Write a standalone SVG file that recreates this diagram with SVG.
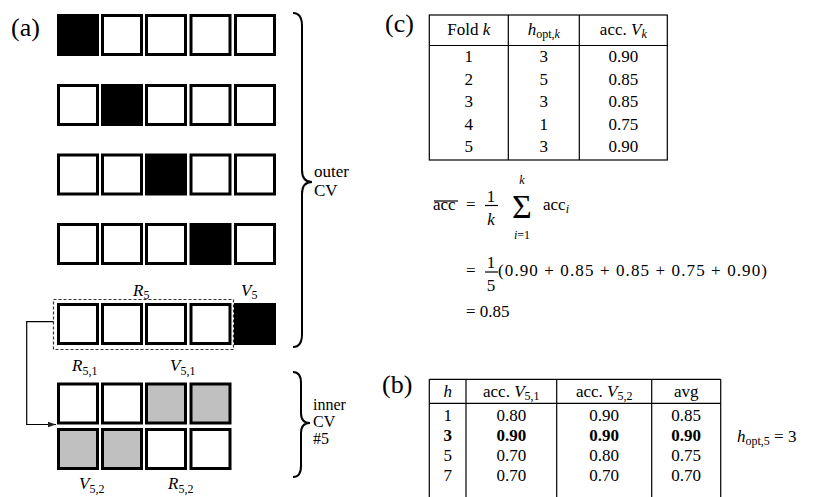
<svg xmlns="http://www.w3.org/2000/svg" width="834" height="497" viewBox="0 0 834 497" font-family="'Liberation Serif', 'DejaVu Serif', serif">
<defs>
<style>
text{font-family:"Liberation Serif","DejaVu Serif",serif;fill:#000}
.t{font-size:17px}
.lab{font-size:26px}
.c{text-anchor:middle}
.i{font-style:italic}
.s{font-size:12px}
.w{fill:#fff;stroke:#000;stroke-width:3}
.b{fill:#000;stroke:#000;stroke-width:3}
.g{fill:#c0c0c0;stroke:#000;stroke-width:3}
.ln{stroke:#000;stroke-width:1.2;fill:none}
.br{stroke:#000;stroke-width:2;fill:none}
.bold{font-weight:bold}
</style>
<marker id="ah" viewBox="0 0 10 10" refX="10" refY="5" markerWidth="8" markerHeight="8" orient="auto" markerUnits="userSpaceOnUse">
<path d="M0,1.5 L10,5 L0,8.5 z" fill="#222"/>
</marker>
</defs>
<rect width="834" height="497" fill="#fff"/>

<text id="label-a" class="lab" x="11" y="36">(a)</text>

<g id="outer-fold-1">
<rect class="b" x="58.5" y="15.5" width="39" height="39"/>
<rect class="w" x="102.5" y="15.5" width="39" height="39"/>
<rect class="w" x="146.5" y="15.5" width="39" height="39"/>
<rect class="w" x="191" y="15.5" width="39" height="39"/>
<rect class="w" x="235.5" y="15.5" width="39" height="39"/>
</g>
<g id="outer-fold-2">
<rect class="w" x="58.5" y="85.5" width="39" height="39"/>
<rect class="b" x="102.5" y="85.5" width="39" height="39"/>
<rect class="w" x="146.5" y="85.5" width="39" height="39"/>
<rect class="w" x="191" y="85.5" width="39" height="39"/>
<rect class="w" x="235.5" y="85.5" width="39" height="39"/>
</g>
<g id="outer-fold-3">
<rect class="w" x="58.5" y="155" width="39" height="39"/>
<rect class="w" x="102.5" y="155" width="39" height="39"/>
<rect class="b" x="146.5" y="155" width="39" height="39"/>
<rect class="w" x="191" y="155" width="39" height="39"/>
<rect class="w" x="235.5" y="155" width="39" height="39"/>
</g>
<g id="outer-fold-4">
<rect class="w" x="58.5" y="224.5" width="39" height="39"/>
<rect class="w" x="102.5" y="224.5" width="39" height="39"/>
<rect class="w" x="146.5" y="224.5" width="39" height="39"/>
<rect class="b" x="191" y="224.5" width="39" height="39"/>
<rect class="w" x="235.5" y="224.5" width="39" height="39"/>
</g>
<g id="outer-fold-5">
<rect x="53.5" y="299.5" width="180" height="50" fill="none" stroke="#333" stroke-width="1.2" stroke-dasharray="3,2"/>
<rect class="w" x="58.5" y="304.5" width="39" height="39"/>
<rect class="w" x="102.5" y="304.5" width="39" height="39"/>
<rect class="w" x="146.5" y="304.5" width="39" height="39"/>
<rect class="w" x="191" y="304.5" width="39" height="39"/>
<rect class="b" x="235.5" y="304.5" width="39" height="39"/>
<text class="t" x="133" y="296"><tspan class="i">R</tspan><tspan class="s" dy="3">5</tspan></text>
<text class="t" x="241" y="296"><tspan class="i">V</tspan><tspan class="s" dy="3">5</tspan></text>
</g>
<g id="inner-row-1">
<rect class="w" x="58.5" y="384" width="39" height="39"/>
<rect class="w" x="102.5" y="384" width="39" height="39"/>
<rect class="g" x="146.5" y="384" width="39" height="39"/>
<rect class="g" x="191" y="384" width="39" height="39"/>
<text class="t" x="72" y="371"><tspan class="i">R</tspan><tspan class="s" dy="4">5,1</tspan></text>
<text class="t" x="170" y="371"><tspan class="i">V</tspan><tspan class="s" dy="4">5,1</tspan></text>
</g>
<g id="inner-row-2">
<rect class="g" x="58.5" y="429.5" width="39" height="39"/>
<rect class="g" x="102.5" y="429.5" width="39" height="39"/>
<rect class="w" x="146.5" y="429.5" width="39" height="39"/>
<rect class="w" x="191" y="429.5" width="39" height="39"/>
<text class="t" x="79" y="489"><tspan class="i">V</tspan><tspan class="s" dy="4">5,2</tspan></text>
<text class="t" x="168" y="489"><tspan class="i">R</tspan><tspan class="s" dy="4">5,2</tspan></text>
</g>

<g id="connectors">
<path class="ln" d="M53.5,321.7 H26.7 V424.5 H56" stroke="#222" marker-end="url(#ah)"/>
</g>

<g id="braces">
<path class="br" d="M293,13 Q302,13 302,26 L302,170 Q302,182 312,182 Q302,182 302,194 L302,334 Q302,347 293,347"/>
<path class="br" d="M293,372 Q301,372 301,383 L301,413 Q301,423 310,423 Q301,423 301,433 L301,466 Q301,477 293,477"/>
<text class="t" x="314" y="177">outer</text>
<text class="t" x="314" y="196">CV</text>
<text x="313" y="410" font-size="16">inner</text>
<text x="313" y="427" font-size="16">CV</text>
<text x="313" y="444" font-size="16">#5</text>
</g>

<text id="label-c" class="lab" x="385" y="32">(c)</text>
<g id="table-c">
<rect class="ln" x="429.3" y="15" width="238" height="145"/>
<line class="ln" x1="429.3" y1="45.5" x2="667.3" y2="45.5"/>
<line class="ln" x1="508.3" y1="15" x2="508.3" y2="160"/>
<line class="ln" x1="579.3" y1="15" x2="579.3" y2="160"/>
<text class="t c" x="468.7" y="35">Fold <tspan class="i">k</tspan></text>
<text class="t c" x="543.8" y="35"><tspan class="i">h</tspan><tspan class="s" dy="3">opt,<tspan class="i">k</tspan></tspan></text>
<text class="t c" x="623.3" y="35">acc. <tspan class="i">V</tspan><tspan class="s i" dy="3">k</tspan></text>
<text class="t c" x="468.7" y="62">1</text><text class="t c" x="543.8" y="62">3</text><text class="t c" x="623.3" y="62">0.90</text>
<text class="t c" x="468.7" y="84.5">2</text><text class="t c" x="543.8" y="84.5">5</text><text class="t c" x="623.3" y="84.5">0.85</text>
<text class="t c" x="468.7" y="107">3</text><text class="t c" x="543.8" y="107">3</text><text class="t c" x="623.3" y="107">0.85</text>
<text class="t c" x="468.7" y="129.5">4</text><text class="t c" x="543.8" y="129.5">1</text><text class="t c" x="623.3" y="129.5">0.75</text>
<text class="t c" x="468.7" y="152">5</text><text class="t c" x="543.8" y="152">3</text><text class="t c" x="623.3" y="152">0.90</text>
</g>

<g id="formula">
<text class="t" x="433" y="210">acc</text>
<line class="ln" x1="434" y1="201" x2="458" y2="201" stroke-width="0.9"/>
<text class="t" x="466" y="210">=</text>
<text class="t c" x="491" y="202">1</text>
<line class="ln" x1="485" y1="205.5" x2="498" y2="205.5" stroke-width="0.9"/>
<text class="t c i" x="491" y="225">k</text>
<text class="c" x="522" y="218" font-size="34">Σ</text>
<text class="s c i" x="522" y="184">k</text>
<text class="s c" x="522" y="239"><tspan class="i">i</tspan>=1</text>
<text class="t" x="543" y="210">acc<tspan class="s i" dy="3">i</tspan></text>
<text class="t" x="466" y="276">=</text>
<text class="t c" x="491" y="268">1</text>
<line class="ln" x1="485" y1="272" x2="498" y2="272" stroke-width="0.9"/>
<text class="t c" x="491" y="291">5</text>
<text class="t" x="498" y="276" textLength="269" lengthAdjust="spacing">(0.90 + 0.85 + 0.85 + 0.75 + 0.90)</text>
<text class="t" x="466" y="317">= 0.85</text>
</g>

<text id="label-b" class="lab" x="382" y="393">(b)</text>
<g id="table-b">
<line class="ln" x1="429.3" y1="379.3" x2="720.7" y2="379.3"/>
<line class="ln" x1="429.3" y1="403.3" x2="720.7" y2="403.3"/>
<line class="ln" x1="429.3" y1="379.3" x2="429.3" y2="497"/>
<line class="ln" x1="466" y1="379.3" x2="466" y2="497"/>
<line class="ln" x1="556.7" y1="379.3" x2="556.7" y2="497"/>
<line class="ln" x1="651.7" y1="379.3" x2="651.7" y2="497"/>
<line class="ln" x1="720.7" y1="379.3" x2="720.7" y2="497"/>
<text class="t c i" x="447.7" y="397">h</text>
<text class="t c" x="511.3" y="397">acc. <tspan class="i">V</tspan><tspan class="s" dy="3">5,1</tspan></text>
<text class="t c" x="604.2" y="397">acc. <tspan class="i">V</tspan><tspan class="s" dy="3">5,2</tspan></text>
<text class="t c" x="686.2" y="397">avg</text>
<text class="t c" x="447.7" y="421">1</text><text class="t c" x="511.3" y="421">0.80</text><text class="t c" x="604.2" y="421">0.90</text><text class="t c" x="686.2" y="421">0.85</text>
<text class="t c bold" x="447.7" y="441">3</text><text class="t c bold" x="511.3" y="441">0.90</text><text class="t c bold" x="604.2" y="441">0.90</text><text class="t c bold" x="686.2" y="441">0.90</text>
<text class="t c" x="447.7" y="461">5</text><text class="t c" x="511.3" y="461">0.70</text><text class="t c" x="604.2" y="461">0.80</text><text class="t c" x="686.2" y="461">0.75</text>
<text class="t c" x="447.7" y="481">7</text><text class="t c" x="511.3" y="481">0.70</text><text class="t c" x="604.2" y="481">0.70</text><text class="t c" x="686.2" y="481">0.70</text>
</g>
<text id="h-opt" class="t" x="737" y="442"><tspan class="i">h</tspan><tspan class="s" dy="3">opt,5</tspan><tspan dy="-3"> = 3</tspan></text>
</svg>
